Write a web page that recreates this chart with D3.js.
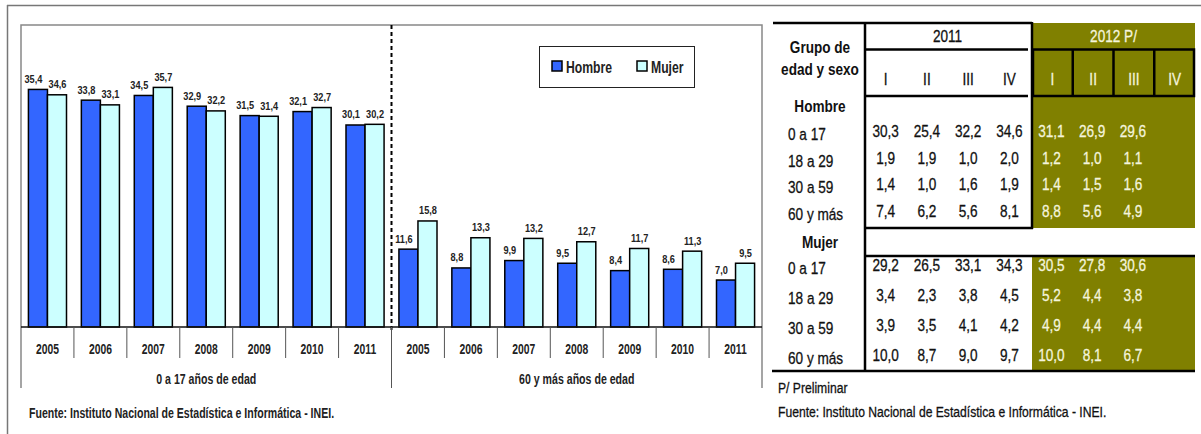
<!DOCTYPE html>
<html><head><meta charset="utf-8">
<script src="https://cdn.jsdelivr.net/npm/d3@7"></script>
<style>
html,body{margin:0;padding:0;background:#fff;}
svg{display:block;font-family:"Liberation Sans",Arial,sans-serif;}
</style></head>
<body><svg id="c" width="1201" height="434"></svg>
<script>
// ---- chart data ----
const years = ["2005","2006","2007","2008","2009","2010","2011"];
const groups = ["0 a 17 años de edad","60 y más años de edad"];
const seriesNames = ["Hombre","Mujer"];
const hombre0a17 = [35.4,33.8,34.5,32.9,31.5,32.1,30.1];
const mujer0a17  = [34.6,33.1,35.7,32.2,31.4,32.7,30.2];
const hombre60   = [11.6,8.8,9.9,9.5,8.4,8.6,7.0];
const mujer60    = [15.8,13.3,13.2,12.7,11.7,11.3,9.5];
const fuente = "Fuente: Instituto Nacional de Estadística e Informática - INEI.";

// ---- table data ----
const quarters = ["I","II","III","IV"];
const periods = ["2011","2012 P/"];
const sexes = ["Hombre","Mujer"];
const rowLabels = ["0 a 17","18 a 29","30 a 59","60 y más"];
const hombre2011 = [[30.3,25.4,32.2,34.6],[1.9,1.9,1.0,2.0],[1.4,1.0,1.6,1.9],[7.4,6.2,5.6,8.1]];
const hombre2012 = [[31.1,26.9,29.6],[1.2,1.0,1.1],[1.4,1.5,1.6],[8.8,5.6,4.9]];
const mujer2011  = [[29.2,26.5,33.1,34.3],[3.4,2.3,3.8,4.5],[3.9,3.5,4.1,4.2],[10.0,8.7,9.0,9.7]];
const mujer2012  = [[30.5,27.8,30.6],[5.2,4.4,3.8],[4.9,4.4,4.4],[10.0,8.1,6.7]];
const nota = "P/ Preliminar";

const svg = d3.select("#c");
const fmt = v => d3.format(".1f")(v).replace(".", ",");
const colors = {Hombre:"#3366FF", Mujer:"#CCFFFF"};
// condensed face emulation (horizontal squeeze of Liberation Sans)
const place = (x,y,s=0.8) => `translate(${x},${y}) scale(${s},1)`;

// outer frame
svg.append("line").attr("x1",7).attr("x2",1201).attr("y1",5.5).attr("y2",5.5).attr("stroke","#777").attr("stroke-width",1.5);
svg.append("line").attr("x1",7.5).attr("x2",7.5).attr("y1",5).attr("y2",434).attr("stroke","#777").attr("stroke-width",1.5);

// ---- bar chart ----
const cats = [];
groups.forEach((g,gi)=>years.forEach((yr,i)=>{
  const h = gi===0 ? hombre0a17[i] : hombre60[i];
  const m = gi===0 ? mujer0a17[i] : mujer60[i];
  cats.push({key:g+"|"+yr, group:g, year:yr, values:[{s:"Hombre",v:h},{s:"Mujer",v:m}]});
}));
const x0 = d3.scaleBand().domain(cats.map(d=>d.key)).range([21,762]);
const x1 = d3.scaleBand().domain(seriesNames).range([0,x0.bandwidth()]).paddingOuter(0.39);
const y = d3.scaleLinear().domain([0,45]).range([327,25]);
const xg = d3.scaleBand().domain(groups).range([21,762]);
const labelShift = {Hombre:-4.5, Mujer:0.5};

// plot frame
svg.append("path").attr("d",`M${xg.range()[0]},388V${y(45)}H${xg.range()[1]}V388`)
  .attr("fill","none").attr("stroke","#888").attr("stroke-width",1.5);

const cg = svg.append("g").selectAll("g").data(cats).join("g")
  .attr("transform",d=>`translate(${x0(d.key)},0)`);
cg.selectAll("rect").data(d=>d.values).join("rect")
  .attr("x",d=>x1(d.s)).attr("width",x1.bandwidth())
  .attr("y",d=>y(d.v)).attr("height",d=>y(0)-y(d.v))
  .attr("fill",d=>colors[d.s]).attr("stroke","#000").attr("stroke-width",1.5);
cg.selectAll("text").data(d=>d.values).join("text")
  .attr("transform",d=>place(x1(d.s)+x1.bandwidth()/2+labelShift[d.s], y(d.v)-6.5, 0.8))
  .attr("text-anchor","middle").attr("font-size",11.5).attr("font-weight","bold").attr("fill","#222")
  .text(d=>fmt(d.v));

// dashed separator
svg.append("line").attr("x1",xg(groups[1])).attr("x2",xg(groups[1])).attr("y1",y(45)).attr("y2",y(0)+4)
  .attr("stroke","#000").attr("stroke-width",2).attr("stroke-dasharray","4,3");

// category axis
svg.append("line").attr("x1",21).attr("x2",762).attr("y1",y(0)).attr("y2",y(0)).attr("stroke","#111").attr("stroke-width",1.5);
svg.append("g").selectAll("line").data(cats.slice(1)).join("line")
  .attr("x1",d=>x0(d.key)).attr("x2",d=>x0(d.key)).attr("y1",y(0)).attr("y2",d=>years.indexOf(d.year)===0?388:358)
  .attr("stroke","#555").attr("stroke-width",1);
svg.append("g").selectAll("text").data(cats).join("text")
  .attr("transform",d=>place(x0(d.key)+x0.bandwidth()/2,354,0.74)).attr("text-anchor","middle")
  .attr("font-size",14).attr("font-weight","bold").attr("fill","#222").text(d=>d.year);
svg.append("g").selectAll("text").data(groups).join("text")
  .attr("transform",d=>place(xg(d)+xg.bandwidth()/2,384,0.757)).attr("text-anchor","middle")
  .attr("font-size",14).attr("font-weight","bold").attr("fill","#222").text(d=>d);

// legend
const lg = svg.append("g");
lg.append("rect").attr("x",539.5).attr("y",46.5).attr("width",155).attr("height",41).attr("fill","#fff").attr("stroke","#222").attr("stroke-width",1);
const lx = d3.scalePoint().domain(seriesNames).range([552,637]);
lg.selectAll("rect.sw").data(seriesNames).join("rect").attr("class","sw")
  .attr("x",d=>lx(d)).attr("y",61).attr("width",10).attr("height",10)
  .attr("fill",d=>colors[d]).attr("stroke","#000").attr("stroke-width",1.5);
lg.selectAll("text").data(seriesNames).join("text")
  .attr("transform",d=>place(lx(d)+14,73,0.74)).attr("font-size",16.5).attr("font-weight","bold").attr("fill","#222").text(d=>d);

svg.append("text").attr("transform",place(29,418,0.755)).attr("font-size",14).attr("font-weight","bold").attr("fill","#222").text(fuente);

// ---- table ----
const olive = "#808000", light = "#F4F4DC";
const c11 = d3.scaleBand().domain(quarters).range([865,1030]);
const c12 = d3.scaleBand().domain(quarters).range([1032,1195]);
const yH = d3.scalePoint().domain(rowLabels).range([137,217]);
const yM = d3.scalePoint().domain(rowLabels).range([271,361]);
const t = svg.append("g");
t.append("rect").attr("x",1032).attr("y",23).attr("width",163).attr("height",205).attr("fill",olive);
t.append("rect").attr("x",1032).attr("y",256).attr("width",163).attr("height",115).attr("fill",olive);
const blk = (x1_,y1_,x2_,y2_) => t.append("line").attr("x1",x1_).attr("y1",y1_).attr("x2",x2_).attr("y2",y2_).attr("stroke","#000").attr("stroke-width",2.5);
blk(773,23,1032,23);
blk(865,22,865,372);
blk(1032,22,1032,229);
blk(865,49.5,1028,49.5);
blk(865,96,1028,96);
blk(865,228,1033,228);
blk(865,256,1195,256);
blk(772,371,1195,371);
t.append("rect").attr("x",1033).attr("y",49.5).attr("width",161).attr("height",46.5).attr("fill","none").attr("stroke","#000").attr("stroke-width",2.5);
quarters.slice(1).forEach(q=>blk(c12(q),49.5,c12(q),96));

const txt = (x,yy,s,opt={}) => {
  const fill = opt.fill||"#111";
  return t.append("text").attr("transform",place(x,yy,opt.sx||0.8)).attr("font-size",opt.size||17)
    .attr("font-weight",opt.bold?"bold":"normal").attr("text-anchor",opt.anchor||"middle").attr("fill",fill)
    .attr("stroke",opt.bold?"none":fill).attr("stroke-width",opt.bold?0:0.3).text(s);
};
txt(820,53,"Grupo de",{bold:true});
txt(820,75,"edad y sexo",{bold:true});
txt(820,112,sexes[0],{bold:true});
txt(820,248,sexes[1],{bold:true});
txt((865+1030)/2,42,periods[0]);
txt((1032+1195)/2,42,periods[1],{fill:light});
quarters.forEach(q=>{
  txt(c11(q)+c11.bandwidth()/2,85,q);
  txt(c12(q)+c12.bandwidth()/2,85,q,{fill:light});
});
rowLabels.forEach((r,i)=>{
  txt(788,yH(r)+3,r,{anchor:"start"});
  txt(788,yM(r)+3,r,{anchor:"start"});
  hombre2011[i].forEach((v,j)=>txt(c11(quarters[j])+c11.bandwidth()/2,yH(r),fmt(v)));
  mujer2011[i].forEach((v,j)=>txt(c11(quarters[j])+c11.bandwidth()/2,yM(r),fmt(v)));
  hombre2012[i].forEach((v,j)=>txt(c12(quarters[j])+c12.bandwidth()/2-1,yH(r),fmt(v),{fill:light}));
  mujer2012[i].forEach((v,j)=>txt(c12(quarters[j])+c12.bandwidth()/2-1,yM(r),fmt(v),{fill:light}));
});
txt(778,393,nota,{anchor:"start",size:15,sx:0.81});
txt(778,417,fuente,{anchor:"start",size:15,sx:0.81});
</script></body></html>
